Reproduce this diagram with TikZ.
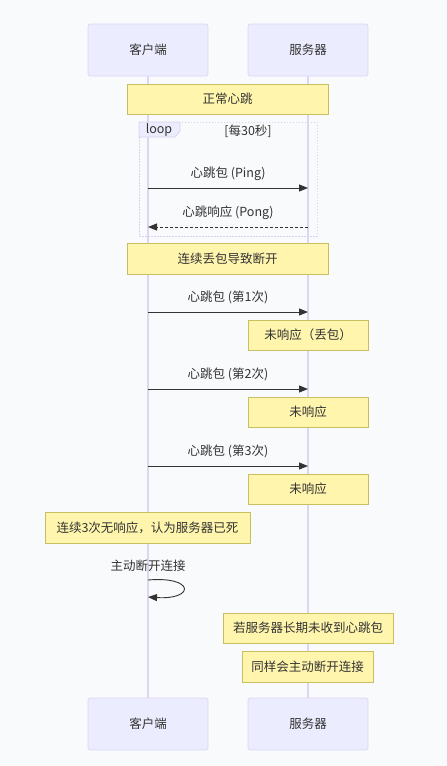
\documentclass[tikz,border=0pt]{standalone}
\usepackage{fontspec}
\setmainfont{Noto Sans CJK SC}
\usetikzlibrary{arrows.meta}
\definecolor{bg}{HTML}{F9FAFC}
\definecolor{actorfill}{HTML}{ECECFF}
\definecolor{actorline}{HTML}{DCD6F5}
\definecolor{lifeline}{HTML}{DDD5F3}
\definecolor{notefill}{HTML}{FFF5AD}
\definecolor{noteline}{HTML}{C8C060}
\definecolor{txt}{HTML}{333333}
\definecolor{loopline}{HTML}{D8D0F0}
\begin{document}
\begin{tikzpicture}[x=1pt,y=-1pt,
  every node/.style={font=\fontsize{12.5}{15}\selectfont, text=txt, inner sep=0pt},
  actor/.style={draw=actorline, fill=actorfill, line width=0.8pt, rounded corners=2.5pt, minimum width=120pt, minimum height=52pt},
  notebox/.style={draw=noteline, fill=notefill, line width=0.8pt},
  msg/.style={draw=txt, line width=0.9pt, -{Triangle[length=9pt,width=7pt]}},
  reply/.style={msg, dash pattern=on 3pt off 2pt},
  life/.style={draw=lifeline, line width=1.3pt}]
\useasboundingbox[fill=bg] (0,0) rectangle (447,766);
% actors
\node[actor] (ct) at (148,50) {客户端};
\node[actor] (st) at (308,50) {服务器};
\node[actor] (cb) at (148,724) {客户端};
\node[actor] (sb) at (308,724) {服务器};
\draw[life] (ct.south) -- (cb.north);
\draw[life] (st.south) -- (sb.north);
% coordinates
\coordinate (c1) at (148,188); \coordinate (s1) at (308,188);
\coordinate (c2) at (148,227); \coordinate (s2) at (308,227);
\coordinate (c3) at (148,312); \coordinate (s3) at (308,312);
\coordinate (c4) at (148,389); \coordinate (s4) at (308,389);
\coordinate (c5) at (148,466); \coordinate (s5) at (308,466);
\coordinate (c6) at (148,580); \coordinate (c7) at (148,597);
% note 1
\draw[notebox] (127,84) rectangle (328,114);
\node (n1) at (227.5,99) {正常心跳};
% loop
\draw[loopline, line width=0.9pt, dash pattern=on 1.5pt off 1.5pt] (139,122) rectangle (317,236);
\filldraw[draw=loopline, fill=actorfill, line width=0.8pt] (139,122) -- (180,122) -- (180,131) -- (175,137) -- (139,137) -- cycle;
\node (lp) at (159,130) {loop};
\node (lc) at (248,131) {[每30秒]};
% messages
\node (m1) at (228,174) {心跳包 (Ping)};
\draw[msg] (c1) -- (s1);
\node (m2) at (228,213) {心跳响应 (Pong)};
\draw[reply] (s2) -- (c2);
% note 2
\draw[notebox] (127,243) rectangle (328,274);
\node (n2) at (227.5,258.5) {连续丢包导致断开};
\node (m3) at (228,297) {心跳包 (第1次)};
\draw[msg] (c3) -- (s3);
\draw[notebox] (248,320) rectangle (368,350);
\node (n3) at (308,335) {未响应（丢包）};
\node (m4) at (228,374) {心跳包 (第2次)};
\draw[msg] (c4) -- (s4);
\draw[notebox] (248,397) rectangle (368,427);
\node (n4) at (308,412) {未响应};
\node (m5) at (228,451) {心跳包 (第3次)};
\draw[msg] (c5) -- (s5);
\draw[notebox] (248,474) rectangle (368,504);
\node (n5) at (308,489) {未响应};
\draw[notebox] (45,512) rectangle (250,543);
\node (n6) at (147.5,527.5) {连续3次无响应，认为服务器已死};
\node (m6) at (148,566) {主动断开连接};
\draw[msg] (c6) .. controls (195,576) and (195,600) .. (c7);
\draw[notebox] (223,613) rectangle (393,643);
\node (n7) at (308,628) {若服务器长期未收到心跳包};
\draw[notebox] (242,651) rectangle (373,682);
\node (n8) at (307.5,666.5) {同样会主动断开连接};
\end{tikzpicture}
\end{document}
